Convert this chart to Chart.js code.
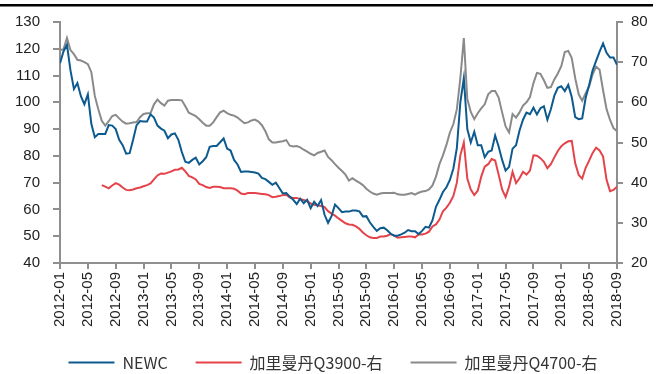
<!DOCTYPE html>
<html>
<head>
<meta charset="utf-8">
<script src="https://cdn.jsdelivr.net/npm/chart.js@4.4.1/dist/chart.umd.min.js"></script>
<style>
  html, body { margin: 0; padding: 0; background: #fff; }
  canvas { display: block; }
</style>
</head>
<body>
<canvas id="myChart" width="666" height="374"></canvas>
<script>
// tick labels of the x axis (every 4 months)
var xTickLabels = ["2012-01", "2012-05", "2012-09", "2013-01", "2013-05", "2013-09", "2014-01",
  "2014-05", "2014-09", "2015-01", "2015-05", "2015-09", "2016-01", "2016-05", "2016-09",
  "2017-01", "2017-05", "2017-09", "2018-01", "2018-05", "2018-09"];

// values read every half month, from 2012-01 to 2018-09 (one row = 4 months)
var newc = [
  114.6, 119, 121.5, 112, 105, 107.2, 102.3, 99.3,
  103, 92, 87, 88.2, 88.2, 88.2, 91.5, 91.3,
  90, 86, 84, 80.8, 81, 86, 91.5, 93,
  92.8, 92.8, 95.5, 94.3, 91.3, 90.2, 89.4, 86.6,
  88, 88.4, 86, 81.4, 77.8, 77.4, 78.5, 79.3,
  76.8, 78, 79.5, 83.4, 83.7, 83.7, 85.1, 86.5,
  82.7, 82, 78.5, 76.8, 74, 74.2, 74.2, 74,
  73.8, 73.4, 71.8, 71.3, 70.3, 69.2, 70, 68,
  66, 66.1, 64.8, 63.6, 62, 64, 62.3, 63.6,
  60.5, 62.9, 61.3, 63.5, 58, 55, 57.5, 61.8,
  60.5, 59, 59.2, 59.2, 59.6, 59.6, 59.3, 57.4,
  57.5, 55.2, 53.5, 52, 53, 53.2, 52.2, 50.9,
  50.2, 50.2, 50.7, 51.3, 52.3, 51.9, 51.9, 50.8,
  52, 53.5, 53.2, 56, 61, 63.6, 66.5, 68.3,
  71, 75.3, 83, 100, 109, 90, 85, 89,
  84, 84, 79.5, 81.5, 82, 87.6, 83.5, 78.5,
  74.5, 75.9, 82.7, 84, 89.5, 93.5, 96.2, 95.6,
  98, 95.5, 97.8, 98.5, 93.5, 97.4, 102.5, 105.4,
  106, 104.2, 106.5, 102, 94.5, 93.7, 94, 101.7,
  106.5, 112, 115.5, 118.9, 122, 118.5, 116.7, 116.7,
  114
];

var q3900 = [
  null, null, null, null, null, null, null, null,
  null, null, null, null, 39.4, 39, 38.6, 39.3,
  39.9, 39.5, 38.8, 38.2, 38.1, 38.3, 38.6, 38.8,
  39.1, 39.4, 39.8, 40.8, 41.8, 42.3, 42.2, 42.5,
  42.8, 43.2, 43.3, 43.7, 42.8, 41.7, 41.3, 40.8,
  39.7, 39.4, 38.9, 38.7, 39, 39, 38.9, 38.6,
  38.6, 38.6, 38.5, 38, 37.3, 37.1, 37.4, 37.4,
  37.4, 37.3, 37.2, 37.1, 36.9, 36.4, 36.5, 36.7,
  36.9, 37, 36.3, 36.2, 36.2, 35.9, 35.7, 35.4,
  34.8, 34.5, 34.4, 34.2, 33.9, 32.9, 32.3, 31.8,
  31.1, 30.5, 29.9, 29.6, 29.5, 29.1, 28.5, 27.6,
  26.9, 26.4, 26.2, 26.2, 26.6, 26.6, 26.8, 27.2,
  26.8, 26.3, 26.4, 26.5, 26.6, 26.6, 26.4, 27.1,
  27.1, 27.3, 27.8, 29.1, 29.6, 30.8, 32.9, 33.8,
  35, 36.7, 40, 46.8, 50, 41, 38.3, 36.9,
  38, 41.5, 44, 44.6, 45.9, 45.5, 42, 38.3,
  36.4, 39, 42.7, 39.9, 41.1, 42.7, 42, 43,
  46.8, 46.7, 46.1, 45.2, 43.6, 44.6, 46.3, 47.9,
  49.1, 49.8, 50.3, 50.4, 44.8, 41.9, 41, 43.7,
  45.5, 47.4, 48.7, 48, 46.5, 40.7, 37.9, 38.2,
  39
];

var q4700 = [
  73, 73.2, 76, 73, 72, 70.6, 70.4, 70,
  69.5, 67.5, 61.6, 58.3, 55.4, 54.2, 55.3, 56.6,
  56.9, 56, 55.2, 54.7, 54.8, 55, 55.1, 56.3,
  57.1, 57.3, 57.3, 59.5, 60.7, 59.8, 59.2, 60.4,
  60.6, 60.6, 60.6, 60.5, 59, 57.4, 57, 56.6,
  55.8, 54.9, 54.2, 54.2, 55, 56.3, 57.5, 57.9,
  57.3, 56.9, 56.7, 56.2, 55.5, 54.8, 55, 55.5,
  55.7, 55.2, 54.3, 52.8, 50.8, 50, 50, 50.2,
  50.3, 50.6, 49.2, 49, 49.1, 48.8, 48.2, 47.7,
  47.2, 46.8, 47.4, 47.7, 48, 46.4, 45.6, 44.6,
  43.7, 42.9, 42, 40.5, 41.1, 40.5, 40, 39.4,
  38.5, 37.8, 37.3, 37, 37.3, 37.4, 37.4, 37.4,
  37.5, 37.1, 37, 37, 37.2, 37.4, 37, 37.5,
  37.8, 37.9, 38.3, 39.3, 41.5, 44.6, 46.8, 49.4,
  52.5, 54.6, 58.3, 66, 76, 60.8, 57.6, 55.8,
  57.3, 58.5, 59.5, 62, 62.8, 62.8, 61.2, 57.5,
  54, 52.5, 57.1, 56.2, 57.5, 59.2, 60, 61.3,
  64.8, 67.3, 67.1, 65.5, 63.6, 63.8, 65.7, 67.2,
  69, 72.5, 72.8, 71, 66, 62, 60.4, 62.3,
  64, 67, 68.9, 68.1, 63, 58.3, 55.6, 53.6,
  52.8
];

// half month steps -> x position in months since 2012-01
function toPoints(arr) {
  var pts = [];
  for (var i = 0; i < arr.length; i++) {
    pts.push({ x: i / 2, y: arr[i] });
  }
  return pts;
}

var axisColor = '#8f8f8f';
var tickFont = { family: 'Liberation Sans, Arial, sans-serif', size: 15 };

// thin black rule on top of the picture
var topRule = {
  id: 'topRule',
  beforeDraw: function (chart) {
    var c = chart.ctx;
    c.save();
    c.fillStyle = '#000';
    c.fillRect(0, 4, 653, 2.5);
    c.restore();
  }
};

var ctx = document.getElementById('myChart').getContext('2d');
var myChart = new Chart(ctx, {
  type: 'line',
  data: {
    datasets: [{
      label: 'NEWC',
      data: toPoints(newc),
      yAxisID: 'y',
      borderColor: '#0d5a8e',
      backgroundColor: '#0d5a8e',
      borderWidth: 2,
      pointRadius: 0
    }, {
      label: '加里曼丹Q3900-右',
      data: toPoints(q3900),
      yAxisID: 'y1',
      borderColor: '#e5434a',
      backgroundColor: '#e5434a',
      borderWidth: 2,
      pointRadius: 0
    }, {
      label: '加里曼丹Q4700-右',
      data: toPoints(q4700),
      yAxisID: 'y1',
      borderColor: '#8a8a8a',
      backgroundColor: '#8a8a8a',
      borderWidth: 2,
      pointRadius: 0
    }]
  },
  options: {
    responsive: false,
    animation: false,
    layout: { padding: { top: 20, left: 0, right: 0, bottom: 0 } },
    plugins: {
      tooltip: { enabled: false },
      legend: {
        position: 'bottom',
        maxHeight: 47.5,
        labels: {
          usePointStyle: true,
          pointStyle: 'line',
          pointStyleWidth: 46,
          padding: 28,
          color: '#333',
          font: { family: 'Noto Sans CJK SC, sans-serif', size: 16 }
        }
      }
    },
    scales: {
      x: {
        type: 'linear',
        min: 0,
        max: 80,
        border: { color: axisColor, width: 2 },
        grid: { drawOnChartArea: false, tickLength: 6, color: axisColor, lineWidth: 2 },
        ticks: {
          stepSize: 4,
          autoSkip: false,
          minRotation: 90,
          maxRotation: 90,
          padding: 3,
          color: '#222',
          font: { family: 'Liberation Sans, Arial, sans-serif', size: 15 },
          callback: function (v) { return xTickLabels[v / 4]; }
        },
        afterFit: function (scale) { scale.height = 63.5; }
      },
      y: {
        position: 'left',
        min: 40,
        max: 130,
        border: { color: axisColor, width: 2 },
        grid: { drawOnChartArea: false, tickLength: 7, color: axisColor, lineWidth: 2 },
        ticks: { stepSize: 10, padding: 13, color: '#222', font: tickFont },
        afterFit: function (scale) { scale.width = 60; }
      },
      y1: {
        position: 'right',
        min: 20,
        max: 80,
        border: { color: axisColor, width: 2 },
        grid: { drawOnChartArea: false, tickLength: 6, color: axisColor, lineWidth: 2 },
        ticks: { stepSize: 10, padding: 8, color: '#222', font: tickFont },
        afterFit: function (scale) { scale.width = 49; }
      }
    }
  },
  plugins: [topRule]
});
</script>
</body>
</html>
